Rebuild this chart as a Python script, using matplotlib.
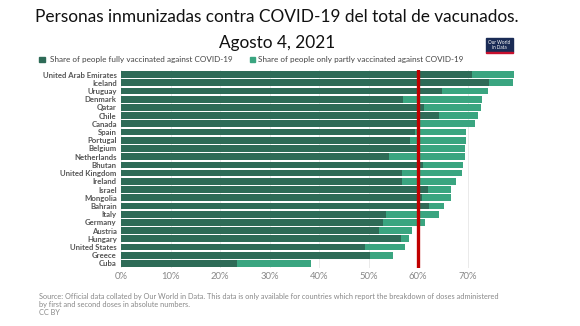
import matplotlib
matplotlib.use("Agg")
import matplotlib.pyplot as plt
from matplotlib.patches import Rectangle

countries = ["United Arab Emirates", "Iceland", "Uruguay", "Denmark", "Qatar", "Chile",
             "Canada", "Spain", "Portugal", "Belgium", "Netherlands", "Bhutan",
             "United Kingdom", "Ireland", "Israel", "Mongolia", "Bahrain", "Italy",
             "Germany", "Austria", "Hungary", "United States", "Greece", "Cuba"]
fully = [71.0, 74.4, 64.8, 57.0, 61.3, 64.3, 60.3, 59.3, 58.4, 60.5, 54.1, 61.1,
         56.8, 56.8, 62.0, 60.8, 62.2, 53.5, 53.0, 52.2, 56.5, 49.2, 50.3, 23.5]
total = [79.4, 79.1, 74.1, 73.0, 72.7, 72.2, 71.5, 69.6, 69.6, 69.5, 69.4, 69.1,
         68.9, 67.7, 66.7, 66.7, 65.3, 64.3, 61.4, 58.8, 58.1, 57.4, 55.0, 38.3]
partly = [t - f for t, f in zip(total, fully)]
xticks = [0, 10, 20, 30, 40, 50, 60, 70]
xticklabels = ["0%", "10%", "20%", "30%", "40%", "50%", "60%", "70%"]
reference_line = 60
legend_labels = ["Share of people fully vaccinated against COVID-19",
                 "Share of people only partly vaccinated against COVID-19"]
title_lines = ["Personas inmunizadas contra COVID-19 del total de vacunados.",
               "Agosto 4, 2021"]
source = ("Source: Official data collated by Our World in Data. This data is only available for countries which report the breakdown of doses administered\n"
          "by first and second doses in absolute numbers.\nCC BY")

W, H = 580, 326
DARK = "#2e6b57"
LIGHT = "#3aa580"

fig = plt.figure(figsize=(W / 100, H / 100), dpi=100)
FONT = "Lato"

def px(x0, y0, x1, y1):
    return [x0 / W, 1 - y1 / H, (x1 - x0) / W, (y1 - y0) / H]

ax = fig.add_axes(px(121, 70.4, 121 + 80 * 4.95, 267.6))
y = list(range(len(countries)))
ax.barh(y, fully, height=0.82, color=DARK, zorder=2)
ax.barh(y, partly, left=fully, height=0.82, color=LIGHT, zorder=2)
ax.set_xlim(0, 80)
ax.set_ylim(len(countries) - 0.5, -0.5)
ax.set_yticks(y)
ax.set_yticklabels(countries, fontfamily=FONT, fontsize=5.6, color="#555555", fontweight="bold")
ax.set_xticks(xticks)
ax.set_xticklabels(xticklabels, fontfamily=FONT, fontsize=6.8, color="#888888")
ax.tick_params(length=0, axis="y", pad=3)
ax.tick_params(length=0, axis="x", pad=3)
for s in ax.spines.values():
    s.set_visible(False)
ax.grid(axis="x", color="#e6e6e6", lw=0.6, zorder=0)
ax.axvline(reference_line, color="#c00000", lw=2.4, zorder=3)

fig.text(277 / W, 1 - 17 / H, title_lines[0], ha="center", va="center", fontsize=12.4,
         fontfamily=FONT, color="#111111")
fig.text(277 / W, 1 - 43 / H, title_lines[1], ha="center", va="center", fontsize=12.4,
         fontfamily=FONT, color="#111111")

# legend
ly = 1 - 59.5 / H
fig.patches.append(Rectangle((39 / W, ly - 2.8 / H), 5.5 / W, 5.5 / H, transform=fig.transFigure,
                             color=DARK, figure=fig))
fig.text(50 / W, ly, legend_labels[0], fontsize=5.85, fontfamily=FONT, color="#444444", va="center")
fig.patches.append(Rectangle((250 / W, ly - 2.8 / H), 5.5 / W, 5.5 / H, transform=fig.transFigure,
                             color=LIGHT, figure=fig))
fig.text(258 / W, ly, legend_labels[1], fontsize=5.85, fontfamily=FONT, color="#444444", va="center")

# logo
fig.patches.append(Rectangle((486 / W, 1 - 52 / H), 27 / W, 14 / H, transform=fig.transFigure,
                             color="#1a2b55", figure=fig))
fig.patches.append(Rectangle((486 / W, 1 - 53.2 / H), 27 / W, 1.2 / H, transform=fig.transFigure,
                             color="#c8102e", figure=fig))
fig.text(499.5 / W, 1 - 45 / H, "Our World\nin Data", ha="center", va="center", fontsize=3.3,
         color="white", fontfamily=FONT, linespacing=1.0)

fig.text(39 / W, 1 - 293 / H, source, fontsize=5.35, fontfamily=FONT, color="#888888",
         va="top", linespacing=1.15)

fig.savefig("out.png", dpi=100)
